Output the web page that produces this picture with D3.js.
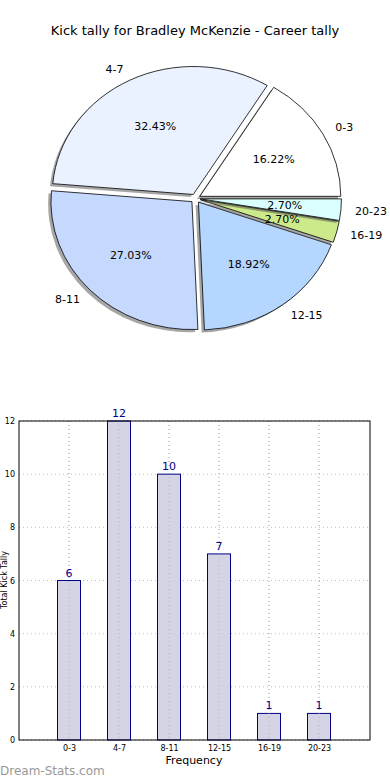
<!DOCTYPE html>
<html><head><meta charset="utf-8">
<script src="https://cdn.jsdelivr.net/npm/d3@7"></script>
<style>body{margin:0;background:#fff}svg{display:block;font-family:"DejaVu Sans",sans-serif}</style>
</head><body><svg id="c" width="390" height="780"></svg>
<script>
const categories = ["0-3","4-7","8-11","12-15","16-19","20-23"];
const values = [6,12,10,7,1,1];
const sliceColors = ["#ffffff","#eaf2ff","#c5d9ff","#b4d6ff","#cdea8a","#dbffff"];
const yTicks = [0,2,4,6,8,10,12];
const title = "Kick tally for Bradley McKenzie - Career tally";

const svg = d3.select("#c");
svg.append("text").attr("x",195).attr("y",35).attr("text-anchor","middle")
  .attr("font-size",13).text(title);

// Pie (elliptical, matplotlib-style: counterclockwise from 3 o'clock)
const cx = 195.5, cy = 198.5, rx = 141, ry = 128, explode = 0.035;
const total = d3.sum(values);
const arcs = d3.pie().sort(null).startAngle(0).endAngle(2*Math.PI)(values);
const pt = (a, k, ox, oy) => [cx + ox + k*rx*Math.cos(a), cy + oy - k*ry*Math.sin(a)];
function wedgePath(d, ox, oy){
  const p0 = pt(d.startAngle,1,ox,oy), p1 = pt(d.endAngle,1,ox,oy);
  const large = (d.endAngle - d.startAngle) > Math.PI ? 1 : 0;
  return `M${cx+ox},${cy+oy}L${p0[0]},${p0[1]}A${rx},${ry} 0 ${large} 0 ${p1[0]},${p1[1]}Z`;
}
const pieG = svg.append("g");
arcs.forEach((d,i)=>{
  const mid = (d.startAngle + d.endAngle)/2;
  const ox = explode*rx*Math.cos(mid), oy = -explode*ry*Math.sin(mid);
  pieG.append("path").attr("d", wedgePath(d, ox-2.8, oy+2.6))
    .attr("fill","#4d4d4d").attr("fill-opacity",0.5);
  pieG.append("path").attr("d", wedgePath(d, ox, oy))
    .attr("fill", sliceColors[i]).attr("stroke","#000").attr("stroke-width",0.8)
    .attr("stroke-linejoin","miter");
});
arcs.forEach((d,i)=>{
  const mid = (d.startAngle + d.endAngle)/2;
  const ox = explode*rx*Math.cos(mid), oy = -explode*ry*Math.sin(mid);
  const lp = pt(mid,1.1,ox,oy);
  svg.append("text").attr("x",lp[0]).attr("y",lp[1]).attr("dy","0.35em")
    .attr("text-anchor", Math.cos(mid) >= 0 ? "start" : "end")
    .attr("font-size",11).text(categories[i]);
  const pp = pt(mid,0.6,ox,oy);
  svg.append("text").attr("x",pp[0]).attr("y",pp[1]).attr("dy","0.35em")
    .attr("text-anchor","middle").attr("font-size",11)
    .text((values[i]/total*100).toFixed(2)+"%");
});

// Bar chart
const L = 19, R = 370, T = 421, B = 740;
const x = d3.scaleLinear().domain([-1, 6.02]).range([L, R]);
const y = d3.scaleLinear().domain([0, 12]).range([B, T]);
const bw = x(0.46) - x(0);
const g = svg.append("g");
g.selectAll(".gx").data(categories).join("line")
  .attr("x1",(d,i)=>x(i)).attr("x2",(d,i)=>x(i)).attr("y1",T).attr("y2",B)
  .attr("stroke","#bbb").attr("stroke-width",1).attr("stroke-dasharray","1,3");
g.selectAll(".gy").data(yTicks).join("line")
  .attr("x1",L).attr("x2",R).attr("y1",d=>y(d)).attr("y2",d=>y(d))
  .attr("stroke","#bbb").attr("stroke-width",1).attr("stroke-dasharray","1,3");
g.selectAll(".bar").data(values).join("rect")
  .attr("x",(d,i)=>x(i)-bw/2).attr("width",bw)
  .attr("y",d=>y(d)).attr("height",d=>B-y(d))
  .attr("fill","#ccccdf").attr("fill-opacity",0.85).attr("stroke","#000088").attr("stroke-width",1);
g.selectAll(".gx2").data(categories).join("line")
  .attr("x1",(d,i)=>x(i)).attr("x2",(d,i)=>x(i)).attr("y1",T).attr("y2",B)
  .attr("stroke","#aaa").attr("stroke-width",1).attr("stroke-dasharray","1,3").attr("opacity",0.6);
g.selectAll(".vl").data(values).join("text")
  .attr("x",(d,i)=>x(i)).attr("y",d=>y(d)-4).attr("text-anchor","middle")
  .attr("font-size",11).attr("fill","#000088").text(d=>d);
g.append("rect").attr("x",L).attr("y",T).attr("width",R-L).attr("height",B-T)
  .attr("fill","none").attr("stroke","#000").attr("stroke-width",1);
const xAxis = d3.axisBottom(x).tickValues(d3.range(categories.length))
  .tickFormat(i=>categories[i]).tickSize(0).tickPadding(5);
svg.append("g").attr("transform",`translate(0,${B})`).call(xAxis)
  .call(a=>a.select(".domain").remove())
  .call(a=>a.selectAll("text").attr("font-size",8).attr("font-family","DejaVu Sans"));
const yAxis = d3.axisLeft(y).tickValues(yTicks).tickSize(0).tickPadding(4);
svg.append("g").attr("transform",`translate(${L},0)`).call(yAxis)
  .call(a=>a.select(".domain").remove())
  .call(a=>a.selectAll("text").attr("font-size",8).attr("font-family","DejaVu Sans"));
svg.append("text").attr("x",194).attr("y",764).attr("text-anchor","middle")
  .attr("font-size",11).text("Frequency");
svg.append("text").attr("transform","translate(7,580) rotate(-90)").attr("text-anchor","middle")
  .attr("font-size",8).text("Total Kick Tally");
svg.append("text").attr("x",0).attr("y",775).attr("font-size",12)
  .attr("fill","#999").text("Dream-Stats.com");
</script></body></html>
